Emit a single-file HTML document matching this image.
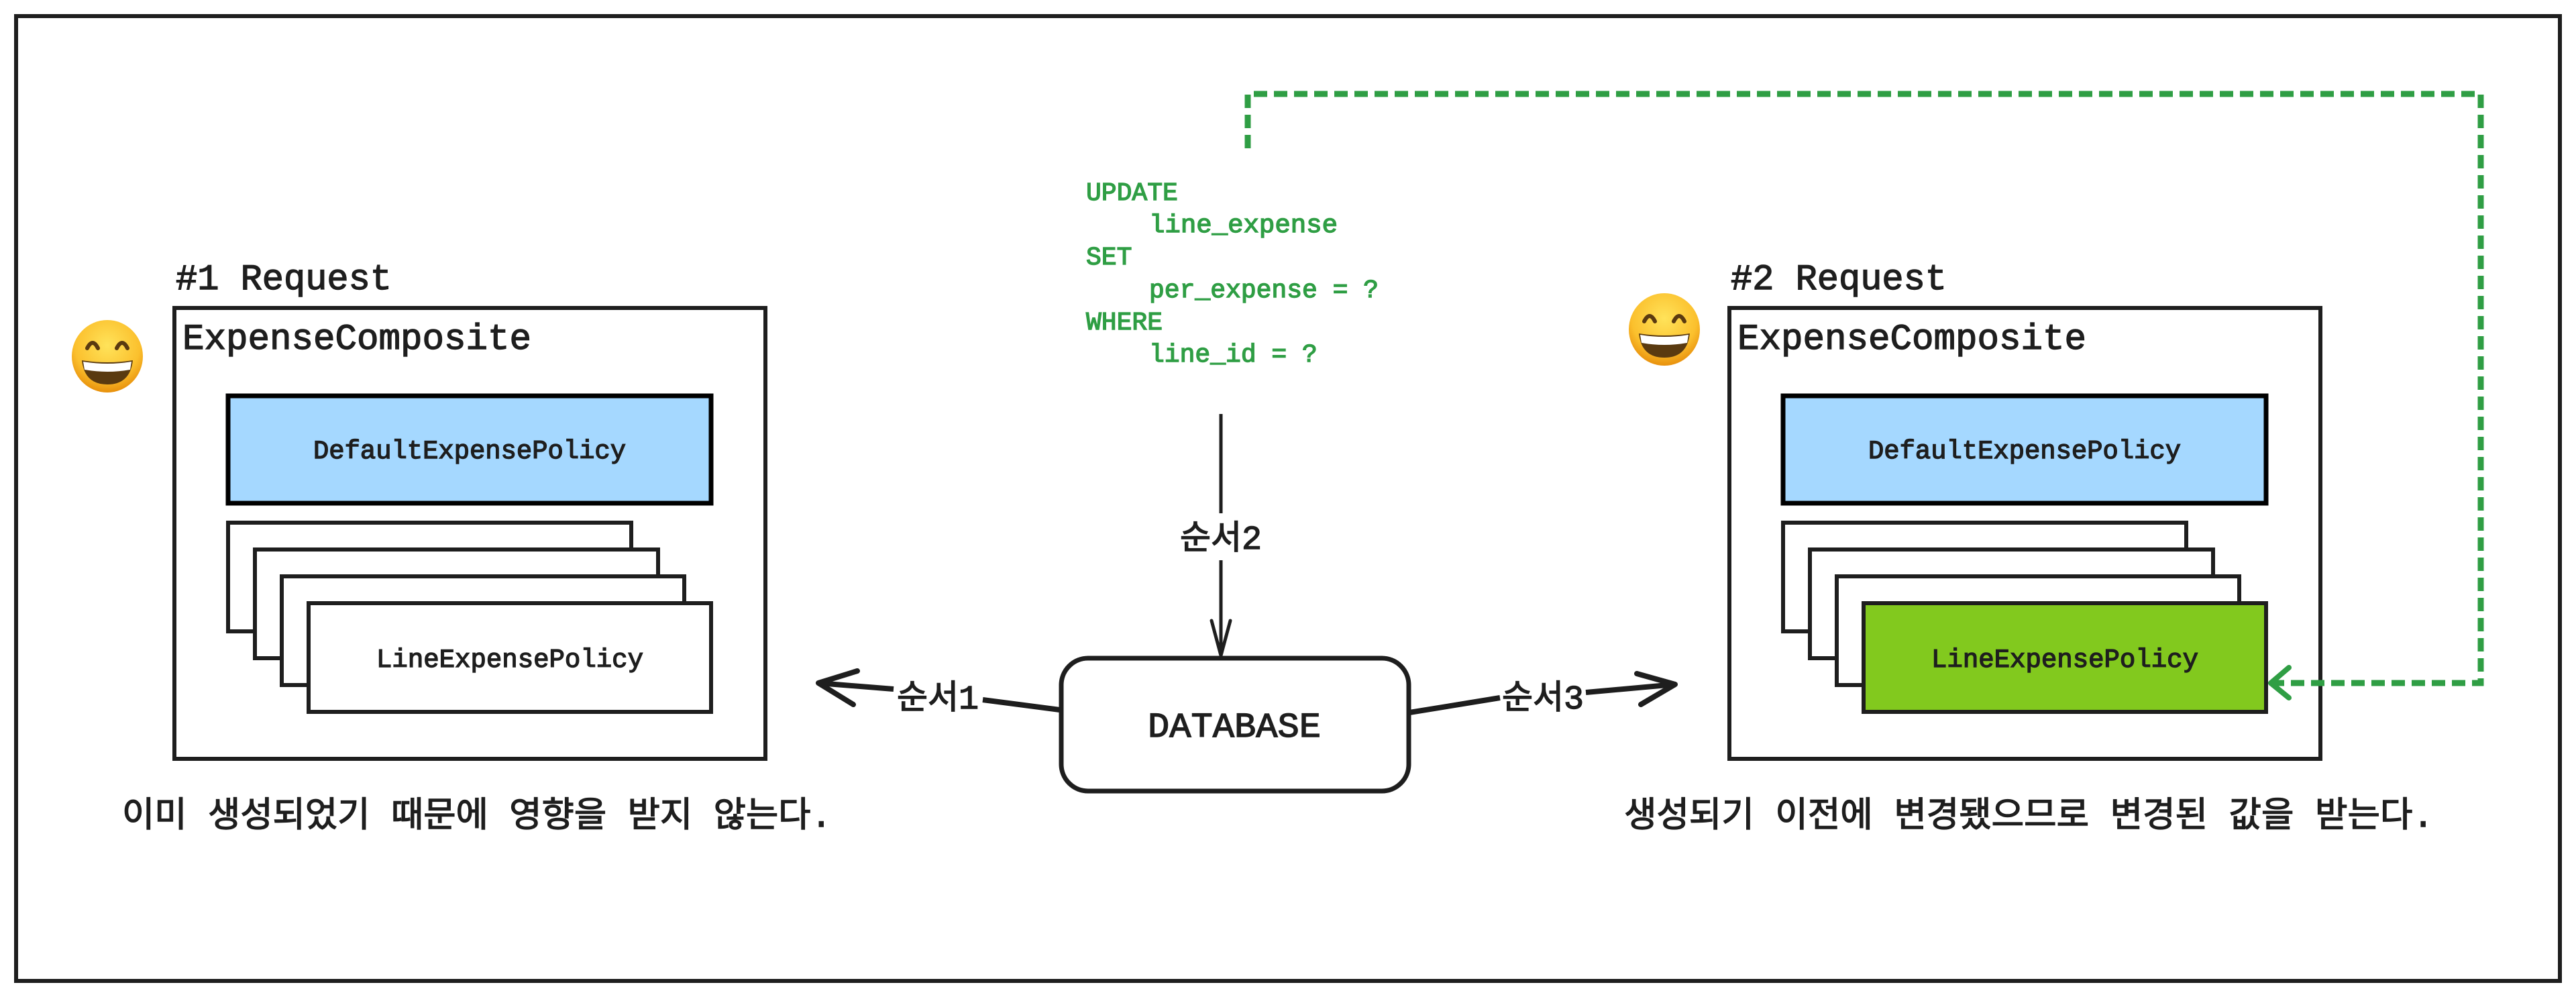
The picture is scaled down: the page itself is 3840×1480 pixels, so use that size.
<!DOCTYPE html>
<html><head><meta charset="utf-8"><style>
html,body{margin:0;padding:0;background:#fff;}
svg{display:block;}
text{font-family:"Liberation Mono","Noto Sans CJK KR",monospace;stroke-width:1.4px;}
.k{stroke:#1e1e1e;}
.g{stroke:#2f9e44;}
</style></head><body>
<svg width="3840" height="1480" viewBox="0 0 3840 1480" xmlns="http://www.w3.org/2000/svg">
<defs>
<radialGradient id="em" cx="50%" cy="35%" r="65%">
<stop offset="0" stop-color="#ffe35a"/><stop offset="0.7" stop-color="#fbc02d"/><stop offset="1" stop-color="#e8900c"/>
</radialGradient>
<g id="emoji">
<ellipse cx="0" cy="0" rx="53" ry="54" fill="url(#em)"/>
<path d="M-30,-12 q8,-16 16,0 M14,-12 q8,-16 16,0" stroke="#5a3a10" stroke-width="6" fill="none" stroke-linecap="round"/>
<path d="M-38,6 Q0,12 38,6 Q34,42 0,42 Q-34,42 -38,6 Z" fill="#5a3a10"/>
<path d="M-36,8 Q0,14 36,8 L34,20 Q0,26 -34,20 Z" fill="#fff"/>
</g>
</defs>
<rect x="24" y="24" width="3792" height="1438" fill="none" stroke="#1e1e1e" stroke-width="6"/>

<g class="k">
<text x="262" y="431" font-size="54" fill="#1e1e1e" textLength="322" lengthAdjust="spacingAndGlyphs">#1 Request</text>
<text x="272" y="520" font-size="54" fill="#1e1e1e" textLength="520" lengthAdjust="spacingAndGlyphs">ExpenseComposite</text>
</g>
<use href="#emoji" x="160" y="531"/>
<rect x="260" y="459" width="881" height="672" fill="none" stroke="#1e1e1e" stroke-width="6"/>
<rect x="340" y="590" width="720" height="160" fill="#a5d8ff" stroke="#000" stroke-width="7"/>
<rect x="340" y="779" width="601" height="162" fill="#fff" stroke="#1e1e1e" stroke-width="6"/>
<rect x="380" y="819" width="601" height="162" fill="#fff" stroke="#1e1e1e" stroke-width="6"/>
<rect x="420" y="859" width="600" height="162" fill="#fff" stroke="#1e1e1e" stroke-width="6"/>
<rect x="460" y="899" width="600" height="162" fill="#fff" stroke="#1e1e1e" stroke-width="6"/>
<g class="k">
<text x="700" y="683" font-size="39" text-anchor="middle" fill="#1e1e1e" textLength="466" lengthAdjust="spacingAndGlyphs">DefaultExpensePolicy</text>
<text x="760" y="994" font-size="39" text-anchor="middle" fill="#1e1e1e" textLength="398" lengthAdjust="spacingAndGlyphs">LineExpensePolicy</text>
<text x="182" y="1232" font-size="52" fill="#1e1e1e" textLength="1058" lengthAdjust="spacingAndGlyphs">이미 생성되었기 때문에 영향을 받지 않는다.</text>
</g>

<use href="#emoji" x="2481" y="491"/>
<rect x="2578" y="459" width="881" height="672" fill="none" stroke="#1e1e1e" stroke-width="6"/>
<rect x="2658" y="590" width="720" height="160" fill="#a5d8ff" stroke="#000" stroke-width="7"/>
<rect x="2658" y="779" width="601" height="162" fill="#fff" stroke="#1e1e1e" stroke-width="6"/>
<rect x="2698" y="819" width="601" height="162" fill="#fff" stroke="#1e1e1e" stroke-width="6"/>
<rect x="2738" y="859" width="600" height="162" fill="#fff" stroke="#1e1e1e" stroke-width="6"/>
<rect x="2778" y="899" width="600" height="162" fill="#82c91e" stroke="#1e1e1e" stroke-width="6"/>
<g class="k">
<text x="2580" y="431" font-size="54" fill="#1e1e1e" textLength="322" lengthAdjust="spacingAndGlyphs">#2 Request</text>
<text x="2590" y="520" font-size="54" fill="#1e1e1e" textLength="520" lengthAdjust="spacingAndGlyphs">ExpenseComposite</text>
<text x="3018" y="683" font-size="39" text-anchor="middle" fill="#1e1e1e" textLength="466" lengthAdjust="spacingAndGlyphs">DefaultExpensePolicy</text>
<text x="3078" y="994" font-size="39" text-anchor="middle" fill="#1e1e1e" textLength="398" lengthAdjust="spacingAndGlyphs">LineExpensePolicy</text>
<text x="2421" y="1232" font-size="52" fill="#1e1e1e" textLength="1207" lengthAdjust="spacingAndGlyphs">생성되기 이전에 변경됐으므로 변경된 값을 받는다.</text>
</g>

<g font-size="38" fill="#2f9e44" class="g">
<text x="1619" y="298">UPDATE</text>
<text x="1713" y="346" textLength="281" lengthAdjust="spacingAndGlyphs">line_expense</text>
<text x="1619" y="394">SET</text>
<text x="1713" y="443">per_expense = ?</text>
<text x="1619" y="491">WHERE</text>
<text x="1713" y="539">line_id = ?</text>
</g>

<path d="M1860,221 L1860,140 L3698,140 L3698,1018 L3390,1018" fill="none" stroke="#2f9e44" stroke-width="9" stroke-dasharray="20,10"/>
<path d="M3412,995 L3385,1018 L3412,1040" fill="none" stroke="#2f9e44" stroke-width="8" stroke-linecap="round" stroke-linejoin="round"/>

<line x1="1820" y1="617" x2="1820" y2="765" stroke="#1e1e1e" stroke-width="5"/>
<line x1="1820" y1="835" x2="1820" y2="975" stroke="#1e1e1e" stroke-width="5"/>
<path d="M1806,925 L1820,977 L1834,925" fill="none" stroke="#1e1e1e" stroke-width="5" stroke-linecap="round"/>

<rect x="1582" y="981" width="518" height="198" rx="40" fill="#fff" stroke="#1e1e1e" stroke-width="7"/>

<line x1="1580" y1="1058" x2="1465" y2="1043" stroke="#1e1e1e" stroke-width="8"/>
<line x1="1332" y1="1027" x2="1220" y2="1018" stroke="#1e1e1e" stroke-width="8"/>
<path d="M1278,1000 L1220,1018 L1272,1050" fill="none" stroke="#1e1e1e" stroke-width="8" stroke-linecap="round" stroke-linejoin="round"/>

<line x1="2101" y1="1062" x2="2236" y2="1040" stroke="#1e1e1e" stroke-width="8"/>
<line x1="2364" y1="1032" x2="2497" y2="1020" stroke="#1e1e1e" stroke-width="8"/>
<path d="M2440,1004 L2497,1020 L2446,1050" fill="none" stroke="#1e1e1e" stroke-width="8" stroke-linecap="round" stroke-linejoin="round"/>

<g class="k">
<text x="1820" y="818" font-size="50" text-anchor="middle" fill="#1e1e1e">순서2</text>
<text x="1840" y="1098" font-size="52" text-anchor="middle" fill="#1e1e1e" textLength="258" lengthAdjust="spacingAndGlyphs">DATABASE</text>
<text x="1398" y="1056" font-size="50" text-anchor="middle" fill="#1e1e1e">순서1</text>
<text x="2300" y="1056" font-size="50" text-anchor="middle" fill="#1e1e1e">순서3</text>
</g>
</svg>
</body></html>
